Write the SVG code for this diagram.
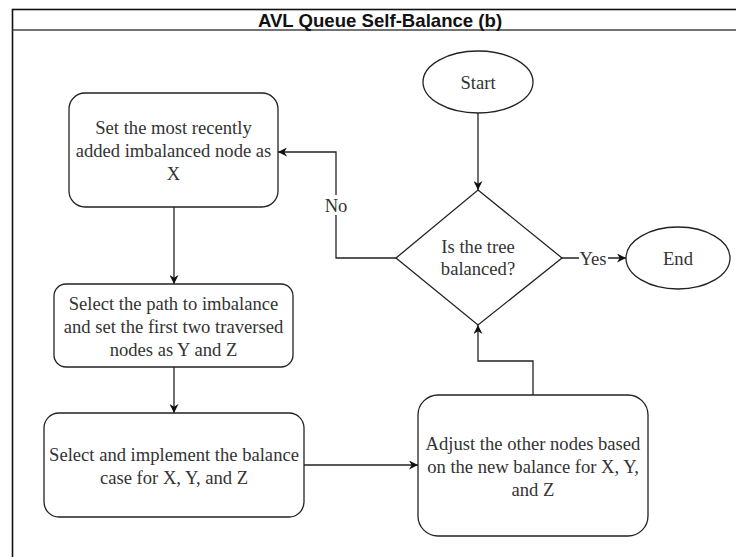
<svg xmlns="http://www.w3.org/2000/svg" width="736" height="557" viewBox="0 0 736 557">
<defs>
<marker id="arr" viewBox="0 0 10 10" refX="10" refY="5" markerWidth="9" markerHeight="9" markerUnits="userSpaceOnUse" orient="auto">
<path d="M0,0 L10,5 L0,10 L3,5 Z" fill="#111"/>
</marker>
<style>
.shape{fill:#fff;stroke:#222;stroke-width:1.3}
.t{font-family:"Liberation Serif","Times New Roman",serif;font-size:18.6px;fill:#333;text-anchor:middle;dominant-baseline:central}
.c{fill:none;stroke:#222;stroke-width:1.3}
.lbl{font-family:"Liberation Serif","Times New Roman",serif;font-size:18.6px;fill:#333;text-anchor:middle;dominant-baseline:central}
</style>
</defs>
<rect width="736" height="557" fill="#fff"/>
<g id="frame">
<rect x="12.5" y="9.5" width="735" height="560" fill="none" stroke="#111" stroke-width="1.6"/>
<line x1="12.5" y1="30" x2="747" y2="30" stroke="#444" stroke-width="1.6"/>
<text x="380" y="20" font-family="'Liberation Sans',Arial,sans-serif" font-size="18.6" font-weight="bold" fill="#111" text-anchor="middle" dominant-baseline="central">AVL Queue Self-Balance (b)</text>
</g>
<g id="connectors">
<line class="c" x1="478" y1="113" x2="478" y2="190" marker-end="url(#arr)"/>
<polyline class="c" points="396,258 336,258 336,152 278,152" marker-end="url(#arr)"/>
<line class="c" x1="562" y1="258" x2="626" y2="258" marker-end="url(#arr)"/>
<line class="c" x1="174" y1="207" x2="174" y2="284" marker-end="url(#arr)"/>
<line class="c" x1="174" y1="367" x2="174" y2="413" marker-end="url(#arr)"/>
<line class="c" x1="304" y1="465" x2="418" y2="465" marker-end="url(#arr)"/>
<polyline class="c" points="533,395 533,361 478,361 478,325" marker-end="url(#arr)"/>
<rect x="322" y="195" width="28" height="20" fill="#fff"/>
<text class="lbl" x="336" y="205">No</text>
<rect x="579" y="248" width="29" height="20" fill="#fff"/>
<text class="lbl" x="593" y="258">Yes</text>
</g>
<g id="start">
<ellipse class="shape" cx="478" cy="82" rx="55" ry="31"/>
<text class="t" x="478" y="82">Start</text>
</g>
<g id="decision">
<polygon class="shape" points="478,190 562,258 478,325 396,258"/>
<text class="t" x="478" y="246">Is the tree</text>
<text class="t" x="478" y="268">balanced?</text>
</g>
<g id="end">
<ellipse class="shape" cx="678" cy="258" rx="52" ry="31"/>
<text class="t" x="678" y="258">End</text>
</g>
<g id="setX">
<rect class="shape" x="69" y="93" width="209" height="114" rx="16" ry="16"/>
<text class="t" x="173.5" y="127">Set the most recently</text>
<text class="t" x="173.5" y="150">added imbalanced node as</text>
<text class="t" x="173.5" y="173">X</text>
</g>
<g id="selectPath">
<rect class="shape" x="54" y="284" width="239" height="83" rx="12" ry="12"/>
<text class="t" x="173.5" y="303">Select the path to imbalance</text>
<text class="t" x="173.5" y="326">and set the first two traversed</text>
<text class="t" x="173.5" y="349">nodes as Y and Z</text>
</g>
<g id="implement">
<rect class="shape" x="44" y="413" width="260" height="104" rx="15" ry="15"/>
<text class="t" x="174" y="454">Select and implement the balance</text>
<text class="t" x="174" y="477">case for X, Y, and Z</text>
</g>
<g id="adjust">
<rect class="shape" x="418" y="395" width="230" height="141" rx="20" ry="20"/>
<text class="t" x="533" y="443">Adjust the other nodes based</text>
<text class="t" x="533" y="466">on the new balance for X, Y,</text>
<text class="t" x="533" y="489">and Z</text>
</g>
</svg>
